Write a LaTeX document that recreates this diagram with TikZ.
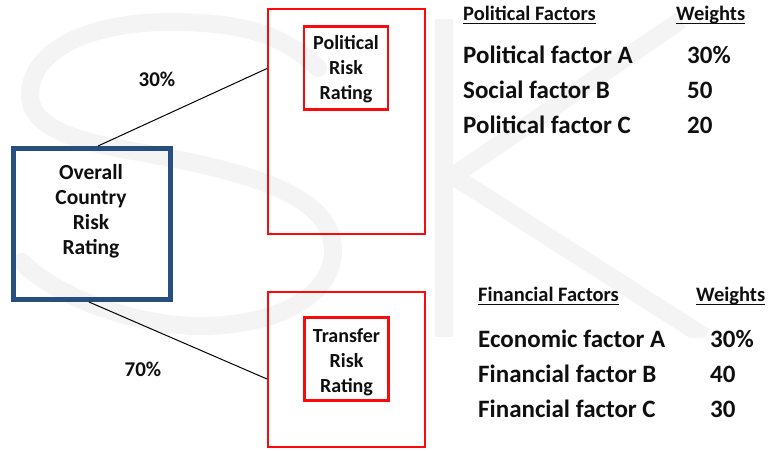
\documentclass[tikz,border=0pt]{standalone}
\usepackage{fontspec}
\setmainfont{Carlito}
\definecolor{ovblue}{RGB}{38,78,128}
\definecolor{wmark}{RGB}{243,244,243}
\definecolor{rbox}{RGB}{250,10,10}
\definecolor{txt}{RGB}{15,15,15}
\begin{document}
\begin{tikzpicture}[x=1pt,y=-1pt,
  ovbox/.style={draw=ovblue, line width=5pt, minimum width=157pt, minimum height=151pt, inner sep=0pt},
  outerbox/.style={draw=rbox, line width=2pt, minimum width=157pt, inner sep=0pt},
  innerbox/.style={draw=rbox, line width=2.7pt, minimum width=84pt, minimum height=83pt, inner sep=0pt},
  boxtext/.style={align=center, text=txt, font=\bfseries\fontsize{20}{25}\selectfont, inner sep=0pt},
  ovtext/.style={align=center, text=txt, font=\bfseries\fontsize{21.5}{25}\selectfont, inner sep=0pt},
  pctlabel/.style={text=txt, font=\bfseries\fontsize{21}{25}\selectfont, inner sep=0pt},
  headtext/.style={anchor=base west, text=txt, font=\bfseries\fontsize{20.5}{24}\selectfont, inner sep=0pt},
  rowtext/.style={anchor=base west, text=txt, font=\bfseries\fontsize{25}{30}\selectfont, inner sep=0pt},
  uline/.style={line width=1.3pt, draw=txt},
  conn/.style={line width=1pt, black},
  wm/.style={draw=wmark, line width=18pt}
]
\useasboundingbox (0,0) rectangle (770,450);
% watermark "SK"
\draw[wm, line cap=round] (318,68) .. controls (280,30) and (230,22) .. (170,22)
  .. controls (90,22) and (30,50) .. (30,95)
  .. controls (30,125) and (70,140) .. (127,150)
  .. controls (230,168) and (333,190) .. (333,250)
  .. controls (333,300) and (270,326) .. (200,326)
  .. controls (140,326) and (60,300) .. (22,262);
\fill[wmark] (435,19) rectangle (453,337);
\begin{scope}
  \clip (440,0) rectangle (770,337);
  \draw[wm] (450,178) -- (681,20);
  \draw[wm] (450,174) -- (705,337);
\end{scope}
% boxes
\node[ovbox] (ov) at (92,224) {};
\node[ovtext] (ovt) at (91,211) {Overall\\Country\\Risk\\Rating};
\node[outerbox, minimum height=225pt] (po) at (346.5,121.5) {};
\node[outerbox, minimum height=155pt] (to) at (346.5,369.5) {};
\node[innerbox] (pi) at (346,68) {};
\node[innerbox] (ti) at (346.5,359) {};
\node[boxtext] (pit) at (346,69.5) {Political\\Risk\\Rating};
\node[boxtext] (tit) at (346.5,362) {Transfer\\Risk\\Rating};
% connectors
\draw[conn] ([xshift=6pt]ov.north) -- ([yshift=53pt]po.west);
\draw[conn] ([xshift=-3pt]ov.south) -- ([yshift=-9.5pt]to.west);
\node[pctlabel] (p30) at (157,79) {30\%};
\node[pctlabel] (p70) at (143,369) {70\%};
% political table
\node[headtext] (h1) at (463,20) {Political Factors};
\node[headtext] (w1) at (676,20) {Weights};
\draw[uline] ([yshift=-3.5pt]h1.base west) -- ([yshift=-3.5pt]h1.base east);
\draw[uline] ([yshift=-3.5pt]w1.base west) -- ([yshift=-3.5pt]w1.base east);
\node[rowtext] (r1) at (463,63) {Political factor A};
\node[rowtext] (r2) at (463,98) {Social factor B};
\node[rowtext] (r3) at (463,133) {Political factor C};
\node[rowtext] (v1) at (687,63) {30\%};
\node[rowtext] (v2) at (687,98) {50};
\node[rowtext] (v3) at (687,133) {20};
% financial table
\node[headtext] (h2) at (478,301) {Financial Factors};
\node[headtext] (w2) at (696,301) {Weights};
\draw[uline] ([yshift=-3.5pt]h2.base west) -- ([yshift=-3.5pt]h2.base east);
\draw[uline] ([yshift=-3.5pt]w2.base west) -- ([yshift=-3.5pt]w2.base east);
\node[rowtext] (s1) at (478,347) {Economic factor A};
\node[rowtext] (s2) at (478,382) {Financial factor B};
\node[rowtext] (s3) at (478,417) {Financial factor C};
\node[rowtext] (u1) at (710,347) {30\%};
\node[rowtext] (u2) at (710,382) {40};
\node[rowtext] (u3) at (710,417) {30};
\end{tikzpicture}
\end{document}
